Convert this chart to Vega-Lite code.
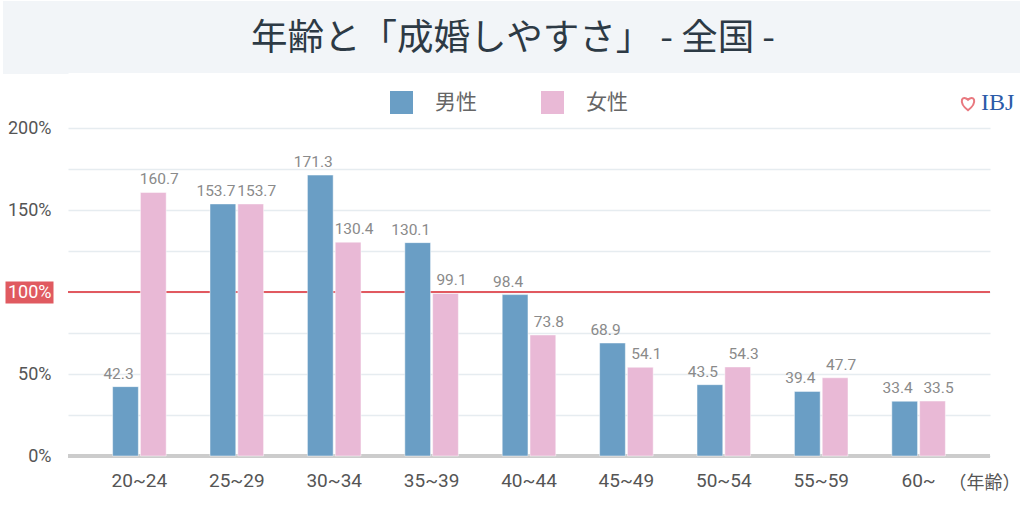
{
  "$schema": "https://vega.github.io/schema/vega-lite/v6.json",
  "padding": 0,
  "background": "white",
  "columns": 1,
  "spacing": 45,
  "config": {"view": {"stroke": null}},
  "datasets": {
    "rates": [
      {"age": "20~24", "sex": "男性", "rate": 42.3},
      {"age": "20~24", "sex": "女性", "rate": 160.7},
      {"age": "25~29", "sex": "男性", "rate": 153.7},
      {"age": "25~29", "sex": "女性", "rate": 153.7},
      {"age": "30~34", "sex": "男性", "rate": 171.3},
      {"age": "30~34", "sex": "女性", "rate": 130.4},
      {"age": "35~39", "sex": "男性", "rate": 130.1},
      {"age": "35~39", "sex": "女性", "rate": 99.1},
      {"age": "40~44", "sex": "男性", "rate": 98.4},
      {"age": "40~44", "sex": "女性", "rate": 73.8},
      {"age": "45~49", "sex": "男性", "rate": 68.9},
      {"age": "45~49", "sex": "女性", "rate": 54.1},
      {"age": "50~54", "sex": "男性", "rate": 43.5},
      {"age": "50~54", "sex": "女性", "rate": 54.3},
      {"age": "55~59", "sex": "男性", "rate": 39.4},
      {"age": "55~59", "sex": "女性", "rate": 47.7},
      {"age": "60~", "sex": "男性", "rate": 33.4},
      {"age": "60~", "sex": "女性", "rate": 33.5}
    ]
  },
  "concat": [
    {
      "width": 952,
      "height": 72,
      "view": {"fill": "#f2f5f8", "stroke": null},
      "data": {"values": [{"title": "年齢と「成婚しやすさ」 - 全国 -"}]},
      "mark": {"type": "text", "font": "Noto Sans CJK JP", "fontSize": 36.5, "color": "#2d3a45", "baseline": "middle", "align": "center", "dx": -31, "dy": 2},
      "encoding": {
        "text": {"field": "title", "type": "nominal"},
        "y": {
          "datum": 36, "type": "quantitative",
          "scale": {"domain": [0, 72], "nice": false, "zero": false},
          "axis": {
            "title": null,
            "values": [2.5, 6.5, 10.5, 14.5, 18.5, 22.5, 26.5, 30.5, 34.5, 38.5, 42.5, 46.5, 50.5, 54.5, 58.5, 62.5, 66.5, 69.5],
            "labels": false, "domain": false, "grid": false,
            "ticks": true, "tickSize": 65.5, "tickWidth": 5, "tickCap": "butt", "tickColor": "#f2f5f8", "offset": 0
          }
        }
      }
    },
    {
      "width": 922,
      "height": 328,
      "data": {"name": "rates"},
      "layer": [
        {
          "mark": {"type": "rule", "color": "#e05a60", "strokeWidth": 1.5},
          "encoding": {
            "y": {
              "datum": 100, "type": "quantitative",
              "scale": {"domain": [0, 200], "nice": false},
              "axis": {
                "title": null, "values": [0, 25, 50, 75, 100, 125, 150, 175, 200],
                "labelExpr": "datum.value % 50 == 0 ? datum.value + '%' : ''",
                "domain": false, "offset": 26,
                "ticks": true, "tickSize": 26, "tickCap": "square",
                "tickWidth": {"condition": {"test": "datum.value == 100", "value": 22}, "value": 0},
                "tickColor": {"condition": {"test": "datum.value == 100", "value": "#e05a60"}, "value": "transparent"},
                "labelPadding": -35,
                "labelFont": "Roboto", "labelFontSize": 18,
                "labelColor": {"condition": {"test": "datum.value == 100", "value": "#ffffff"}, "value": "#555555"},
                "grid": true, "gridColor": "#e6ecf0", "gridWidth": 1.5
              }
            }
          }
        },
        {
          "mark": {"type": "rule", "color": "#cccccc", "strokeWidth": 4},
          "encoding": {"y": {"datum": 0, "type": "quantitative"}}
        },
        {
          "mark": {"type": "bar", "stroke": "#ffffff", "strokeWidth": 0.8, "strokeOpacity": 0.6},
          "encoding": {
            "x": {
              "field": "age", "type": "nominal", "sort": null,
              "scale": {"paddingInner": 0.45, "paddingOuter": 0.458},
              "axis": {
                "title": "（年齢）", "labelAngle": 0, "ticks": false, "domain": false,
                "labelFont": "Roboto", "labelFontSize": 19, "labelColor": "#555555", "labelPadding": 15,
                "titleFont": "Noto Sans CJK JP", "titleFontSize": 18, "titleFontWeight": "normal", "titleColor": "#555555",
                "titleX": 880, "titleY": 27, "titleAlign": "left", "titleBaseline": "middle", "titleAnchor": null
              }
            },
            "xOffset": {"field": "sex", "type": "nominal", "sort": ["男性", "女性"], "scale": {"paddingInner": 0.074}},
            "y": {"field": "rate", "type": "quantitative"},
            "color": {
              "field": "sex", "type": "nominal", "sort": ["男性", "女性"],
              "scale": {"domain": ["男性", "女性"], "range": ["#6a9ec5", "#e9b9d6"]},
              "legend": {
                "title": null, "orient": "none", "direction": "horizontal",
                "legendX": 322, "legendY": 90, "padding": 0,
                "symbolType": "square", "symbolSize": 529, "symbolStrokeWidth": 0,
                "labelFont": "Noto Sans CJK JP", "labelFontSize": 21, "labelColor": "#666666",
                "labelOffset": 22, "columnPadding": 64
              }
            }
          }
        },
        {
          "transform": [{"filter": "datum.sex == '男性'"}],
          "mark": {"type": "text", "font": "Roboto", "fontSize": 15.5, "letterSpacing": -1.3, "color": "#8a8a8a", "dy": -8, "dx": -7, "baseline": "alphabetic"},
          "encoding": {
            "x": {"field": "age", "type": "nominal", "sort": null},
            "xOffset": {"datum": "男性"},
            "y": {"field": "rate", "type": "quantitative"},
            "text": {"field": "rate", "type": "quantitative", "format": ".1f"}
          }
        },
        {
          "transform": [{"filter": "datum.sex == '女性'"}],
          "mark": {"type": "text", "font": "Roboto", "fontSize": 15.5, "letterSpacing": -1.3, "color": "#8a8a8a", "dy": -8, "dx": 6, "baseline": "alphabetic"},
          "encoding": {
            "x": {"field": "age", "type": "nominal", "sort": null},
            "xOffset": {"datum": "女性"},
            "y": {"field": "rate", "type": "quantitative"},
            "text": {"field": "rate", "type": "quantitative", "format": ".1f"}
          }
        },
        {
          "data": {"values": [{"brand": "IBJ", "age": "60~"}]},
          "mark": {"type": "point", "clip": true, "color": "#e0404a", "filled": false, "strokeWidth": 2},
          "encoding": {
            "x": {"field": "age", "type": "nominal", "sort": null},
            "y": {"datum": -50, "type": "quantitative"},
            "shape": {
              "field": "brand", "type": "nominal",
              "scale": {"range": ["M0,0.9 C-1.3,-0.1 -0.7,-1.1 0,-0.4 C0.7,-1.1 1.3,-0.1 0,0.9 Z"]},
              "legend": {
                "title": null, "orient": "none", "legendX": 888, "legendY": 90, "padding": 0,
                "symbolSize": 260, "symbolStrokeWidth": 2, "symbolStrokeColor": "#e0404a", "symbolFillColor": "transparent",
                "labelFont": "Liberation Serif", "labelFontSize": 24, "labelFontWeight": "normal", "labelColor": "#2b5ba8", "labelOffset": 1
              }
            }
          }
        }
      ]
    }
  ]
}
